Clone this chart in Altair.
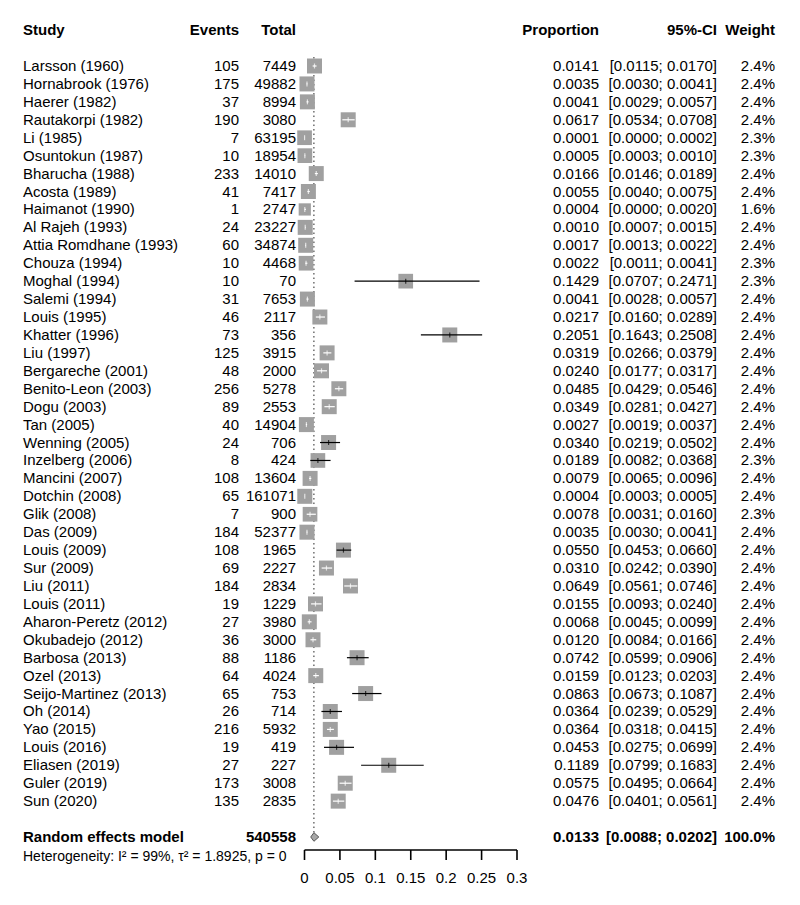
import math
import altair as alt
import pandas as pd

# ---------------- data ----------------
studies = ["Larsson (1960)", "Hornabrook (1976)", "Haerer (1982)", "Rautakorpi (1982)", "Li (1985)",
           "Osuntokun (1987)", "Bharucha (1988)", "Acosta (1989)", "Haimanot (1990)", "Al Rajeh (1993)",
           "Attia Romdhane (1993)", "Chouza (1994)", "Moghal (1994)", "Salemi (1994)", "Louis (1995)",
           "Khatter (1996)", "Liu (1997)", "Bergareche (2001)", "Benito-Leon (2003)", "Dogu (2003)",
           "Tan (2005)", "Wenning (2005)", "Inzelberg (2006)", "Mancini (2007)", "Dotchin (2008)",
           "Glik (2008)", "Das (2009)", "Louis (2009)", "Sur (2009)", "Liu (2011)",
           "Louis (2011)", "Aharon-Peretz (2012)", "Okubadejo (2012)", "Barbosa (2013)", "Ozel (2013)",
           "Seijo-Martinez (2013)", "Oh (2014)", "Yao (2015)", "Louis (2016)", "Eliasen (2019)",
           "Guler (2019)", "Sun (2020)"]
events = [105, 175, 37, 190, 7, 10, 233, 41, 1, 24,
          60, 10, 10, 31, 46, 73, 125, 48, 256, 89,
          40, 24, 8, 108, 65, 7, 184, 108, 69, 184,
          19, 27, 36, 88, 64, 65, 26, 216, 19, 27,
          173, 135]
totals = [7449, 49882, 8994, 3080, 63195, 18954, 14010, 7417, 2747, 23227,
          34874, 4468, 70, 7653, 2117, 356, 3915, 2000, 5278, 2553,
          14904, 706, 424, 13604, 161071, 900, 52377, 1965, 2227, 2834,
          1229, 3980, 3000, 1186, 4024, 753, 714, 5932, 419, 227,
          3008, 2835]
proportion = [0.0141, 0.0035, 0.0041, 0.0617, 0.0001, 0.0005, 0.0166, 0.0055, 0.0004, 0.0010,
              0.0017, 0.0022, 0.1429, 0.0041, 0.0217, 0.2051, 0.0319, 0.0240, 0.0485, 0.0349,
              0.0027, 0.0340, 0.0189, 0.0079, 0.0004, 0.0078, 0.0035, 0.0550, 0.0310, 0.0649,
              0.0155, 0.0068, 0.0120, 0.0742, 0.0159, 0.0863, 0.0364, 0.0364, 0.0453, 0.1189,
              0.0575, 0.0476]
ci_lower = [0.0115, 0.0030, 0.0029, 0.0534, 0.0000, 0.0003, 0.0146, 0.0040, 0.0000, 0.0007,
            0.0013, 0.0011, 0.0707, 0.0028, 0.0160, 0.1643, 0.0266, 0.0177, 0.0429, 0.0281,
            0.0019, 0.0219, 0.0082, 0.0065, 0.0003, 0.0031, 0.0030, 0.0453, 0.0242, 0.0561,
            0.0093, 0.0045, 0.0084, 0.0599, 0.0123, 0.0673, 0.0239, 0.0318, 0.0275, 0.0799,
            0.0495, 0.0401]
ci_upper = [0.0170, 0.0041, 0.0057, 0.0708, 0.0002, 0.0010, 0.0189, 0.0075, 0.0020, 0.0015,
            0.0022, 0.0041, 0.2471, 0.0057, 0.0289, 0.2508, 0.0379, 0.0317, 0.0546, 0.0427,
            0.0037, 0.0502, 0.0368, 0.0096, 0.0005, 0.0160, 0.0041, 0.0660, 0.0390, 0.0746,
            0.0240, 0.0099, 0.0166, 0.0906, 0.0203, 0.1087, 0.0529, 0.0415, 0.0699, 0.1683,
            0.0664, 0.0561]
weights = [2.4, 2.4, 2.4, 2.4, 2.3, 2.3, 2.4, 2.4, 1.6, 2.4,
           2.4, 2.3, 2.3, 2.4, 2.4, 2.4, 2.4, 2.4, 2.4, 2.4,
           2.4, 2.4, 2.3, 2.4, 2.4, 2.3, 2.4, 2.4, 2.4, 2.4,
           2.4, 2.4, 2.4, 2.4, 2.4, 2.4, 2.4, 2.4, 2.4, 2.4,
           2.4, 2.4]

re_label = "Random effects model"
re_total = 540558
re_est, re_lower, re_upper, re_weight = 0.0133, 0.0088, 0.0202, 100.0
hetero_text = "Heterogeneity: I\u00b2 = 99%, \u03c4\u00b2 = 1.8925, p = 0"
x_ticks = [0, 0.05, 0.1, 0.15, 0.2, 0.25, 0.3]
x_tick_labels = ["0", "0.05", "0.1", "0.15", "0.2", "0.25", "0.3"]
headers = ["Study", "Events", "Total", "Proportion", "95%-CI", "Weight"]

# ---------------- styles / layout ----------------
FONT = "Liberation Sans"
FS = 15
X_RANGE = [296.5, 509.0]
PX_PER_UNIT = (X_RANGE[1] - X_RANGE[0]) / 0.3
ROW_H = 17.93
Y0 = 58.0
N = len(studies)
RE_ROW = N + 1
SQ_MAX_AREA = 225.0   # px^2 for 2.4 %
SQ_COLOR = "#a0a0a0"
AXIS_PX = 842.0       # pixel position of the axis line
TICK_LEN = 10.0
LABEL_PX = 870.0
Y_LO, Y_HI = -3, 48   # extended row domain so that axis marks sit inside it

df = pd.DataFrame({
    "study": studies,
    "events": [str(e) for e in events],
    "total": [str(t) for t in totals],
    "est": proportion,
    "lower": ci_lower,
    "upper": ci_upper,
    "w": weights,
})
df["row"] = range(N)
df["prop_txt"] = [f"{p:.4f}" for p in proportion]
df["ci_txt"] = [f"[{l:.4f}; {u:.4f}]" for l, u in zip(ci_lower, ci_upper)]
df["w_txt"] = [f"{w:.1f}%" for w in weights]
half = [math.sqrt(w * SQ_MAX_AREA / 2.4) / 2 / PX_PER_UNIT for w in weights]
df["ci_col"] = ["white" if (p - l) <= h and (u - p) <= h else "black"
                for p, l, u, h in zip(proportion, ci_lower, ci_upper, half)]

re_df = pd.DataFrame({
    "study": [re_label], "total": [str(re_total)], "est": [re_est],
    "prop_txt": [f"{re_est:.4f}"], "ci_txt": [f"[{re_lower:.4f}; {re_upper:.4f}]"],
    "w_txt": [f"{re_weight:.1f}%"], "row": [RE_ROW],
    "top": [-0.5], "bottom": [RE_ROW - 0.25],
})
diamond_df = pd.DataFrame({
    "x": [re_lower, re_est, re_upper],
    "y": [RE_ROW, RE_ROW - 0.24, RE_ROW],
    "y2": [RE_ROW, RE_ROW + 0.24, RE_ROW],
})


def px_to_row(px):
    return (px - Y0) / ROW_H


tick_df = pd.DataFrame({"v": x_ticks, "lab": x_tick_labels})
tick_df["r1"] = px_to_row(AXIS_PX)
tick_df["r2"] = px_to_row(AXIS_PX + TICK_LEN)
tick_df["rl"] = px_to_row(LABEL_PX)
# axis line as a two-point line between the first and last tick
dom_df = pd.DataFrame({"v": [min(x_ticks), max(x_ticks)],
                       "r1": [px_to_row(AXIS_PX)] * 2})

xscale = alt.Scale(domain=[0, 0.3], range=X_RANGE, nice=False, zero=False)
yscale = alt.Scale(domain=[Y_LO, Y_HI], range=[Y0 + Y_LO * ROW_H, Y0 + Y_HI * ROW_H],
                   nice=False, zero=False)
Y = alt.Y("row:Q", scale=yscale, axis=None)


def X(field):
    return alt.X(field, scale=xscale, axis=None)


def YF(field):
    return alt.Y(field, scale=yscale, axis=None)


ref_line = alt.Chart(re_df).mark_rule(color="#222222", strokeDash=[1.5, 3], strokeWidth=1).encode(
    x=X("est:Q"), y=YF("top:Q"), y2="bottom:Q")

squares = alt.Chart(df).mark_square(color=SQ_COLOR, opacity=1).encode(
    x=X("est:Q"),
    y=Y,
    size=alt.Size("w:Q", scale=alt.Scale(domain=[0, 2.4], range=[0, SQ_MAX_AREA]), legend=None),
)

ci_lines = alt.Chart(df).mark_rule(strokeWidth=1.2).encode(
    x=X("lower:Q"), x2="upper:Q", y=Y,
    color=alt.Color("ci_col:N", scale=None),
)

est_ticks = alt.Chart(df).mark_tick(orient="vertical", size=5, thickness=1.2).encode(
    x=X("est:Q"), y=Y,
    color=alt.Color("ci_col:N", scale=None),
)

diamond = alt.Chart(diamond_df).mark_area(orient="vertical", fill="#a8a8a8", stroke="#555555",
                                          strokeWidth=1).encode(
    x=X("x:Q"), y=YF("y:Q"), y2="y2:Q")

# x axis drawn with marks through the same x scale
axis_domain = alt.Chart(dom_df).mark_line(color="#000000", strokeWidth=1.6).encode(
    x=X("v:Q"), y=YF("r1:Q"))
axis_ticks = alt.Chart(tick_df).mark_rule(color="#000000", strokeWidth=1.6).encode(
    x=X("v:Q"), y=YF("r1:Q"), y2="r2:Q")
axis_labels = alt.Chart(tick_df).mark_text(align="center", baseline="middle", font=FONT,
                                           fontSize=FS, color="black").encode(
    x=X("v:Q"), y=YF("rl:Q"), text="lab:N")


def col_text(data, field, xpx, align, bold=False):
    return alt.Chart(data).mark_text(align=align, baseline="middle", font=FONT, fontSize=FS,
                                     fontWeight="bold" if bold else "normal", color="black").encode(
        x=alt.value(xpx), y=Y, text=f"{field}:N")


head_pos = [(15, "left"), (231, "right"), (288, "right"), (591, "right"), (709, "right"), (767, "right")]
head_layers = []
for label, (xpx, align) in zip(headers, head_pos):
    hd = pd.DataFrame({"label": [label]})
    head_layers.append(
        alt.Chart(hd).mark_text(align=align, baseline="middle", font=FONT, fontSize=FS,
                                fontWeight="bold", color="black").encode(
            x=alt.value(xpx), y=alt.value(22), text="label:N"))

study_layers = [
    col_text(df, "study", 15, "left"),
    col_text(df, "events", 231, "right"),
    col_text(df, "total", 288, "right"),
    col_text(df, "prop_txt", 591, "right"),
    col_text(df, "ci_txt", 709, "right"),
    col_text(df, "w_txt", 767, "right"),
]
re_layers = [
    col_text(re_df, "study", 15, "left", True),
    col_text(re_df, "total", 288, "right", True),
    col_text(re_df, "prop_txt", 591, "right", True),
    col_text(re_df, "ci_txt", 709, "right", True),
    col_text(re_df, "w_txt", 767, "right", True),
]
het_df = pd.DataFrame({"label": [hetero_text]})
het = alt.Chart(het_df).mark_text(align="left", baseline="middle", font=FONT, fontSize=14,
                                  color="black").encode(
    x=alt.value(15), y=alt.value(849), text="label:N")

chart = alt.layer(
    ref_line, squares, ci_lines, est_ticks, diamond,
    *head_layers, *study_layers, *re_layers, het,
    axis_domain, axis_ticks, axis_labels,
).properties(
    width=784, height=880,
    background="white",
    autosize=alt.AutoSizeParams(type="none"),
    padding={"left": 0, "top": 0, "right": 0, "bottom": 5},
).configure_view(stroke=None)

chart.save("out.html", embed_options={"renderer": "svg", "actions": False})
